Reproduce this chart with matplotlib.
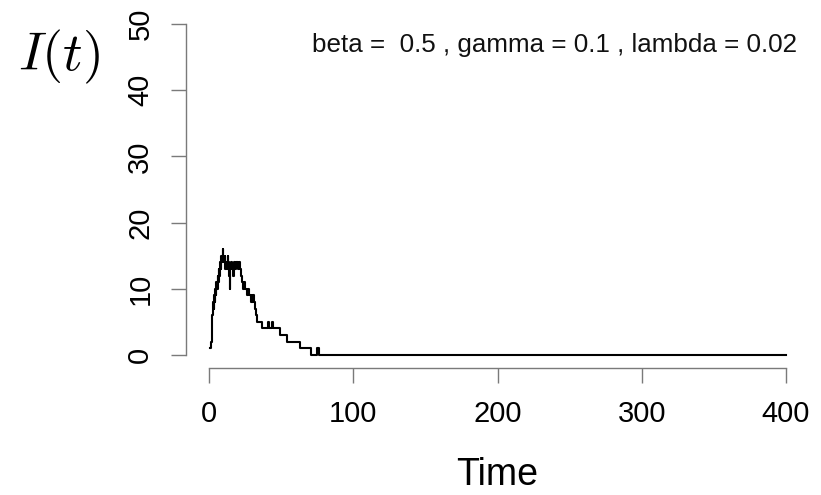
import matplotlib
matplotlib.use("Agg")
import matplotlib.pyplot as plt

# Event times and infected counts (step function)
times = [0.7, 1.5, 2.0, 2.3, 2.6, 3.0, 3.3, 3.6, 4.0, 4.3, 4.7, 5.0, 5.5, 5.9,
         6.3, 6.7, 7.2, 7.6, 8.0, 8.5, 9.0, 9.4, 9.8, 10.2, 10.8, 11.3, 11.8,
         12.3, 12.8, 13.3, 13.8, 14.2, 14.7, 15.2, 15.8, 16.5, 17.2, 18.0,
         19.0, 19.8, 20.5, 21.3, 22.0, 22.8, 23.5, 24.5, 25.2, 26.0, 27.0,
         28.0, 29.0, 29.5, 30.0, 30.6, 31.3, 32.0, 32.6, 33.3, 37.0, 41.0,
         41.8, 43.5, 44.6, 49.0, 53.7, 63.0, 71.0, 75.0, 76.5, 400.0]
infected = [1, 2, 4, 6, 7, 8, 7, 9, 8, 10, 9, 11, 10, 12,
            11, 13, 12, 14, 13, 15, 14, 16, 15, 14, 15, 13, 14,
            13, 15, 14, 12, 10, 13, 14, 13, 12, 14, 13,
            14, 13, 14, 13, 12, 11, 10, 11, 10, 9, 10,
            9, 8, 9, 8, 9, 8, 7, 6, 5, 4, 5,
            4, 5, 4, 3, 2, 1, 0, 1, 0, 0]

x_ticks = [0, 100, 200, 300, 400]
y_ticks = [0, 10, 20, 30, 40, 50]
param_text = "beta =  0.5 , gamma = 0.1 , lambda = 0.02"

plt.rcParams['font.family'] = ['Liberation Sans', 'DejaVu Sans']
plt.rcParams['mathtext.fontset'] = 'cm'

W, H = 821, 495
fig = plt.figure(figsize=(W / 100, H / 100), dpi=100)
ax = fig.add_axes([186 / W, 1 - 368.2 / H, (809 - 186) / W, (368.2 - 10.8) / H])

ax.plot(times, infected, drawstyle='steps-post', color='black', lw=1.5)
ax.set_xlim(-16, 416)
ax.set_ylim(-2, 52)

for s in ['top', 'right']:
    ax.spines[s].set_visible(False)
ax.spines['left'].set_bounds(0, 50)
ax.spines['bottom'].set_bounds(0, 400)
for s in ['left', 'bottom']:
    ax.spines[s].set_color('#7a7a7a')
    ax.spines[s].set_linewidth(1.0)

ax.set_xticks(x_ticks)
ax.set_yticks(y_ticks)
ax.tick_params(axis='both', colors='#7a7a7a', length=10.8, width=1.0,
               labelsize=21, labelcolor='black')
ax.tick_params(axis='x', pad=12)
ax.tick_params(axis='y', pad=12, labelrotation=90)
for lab in ax.get_yticklabels():
    lab.set_va('center')

fig.text(497.5 / W, 1 - 485 / H, 'Time', fontsize=27, ha='center', va='baseline')

fig.text(59 / W, 1 - 57 / H, r'$I(t)$', fontsize=39, ha='center', va='center')
fig.text(797 / W, 1 - 52 / H, param_text, fontsize=18.7, ha='right', va='baseline',
         color='#111111')

fig.savefig('out.png', dpi=100)
